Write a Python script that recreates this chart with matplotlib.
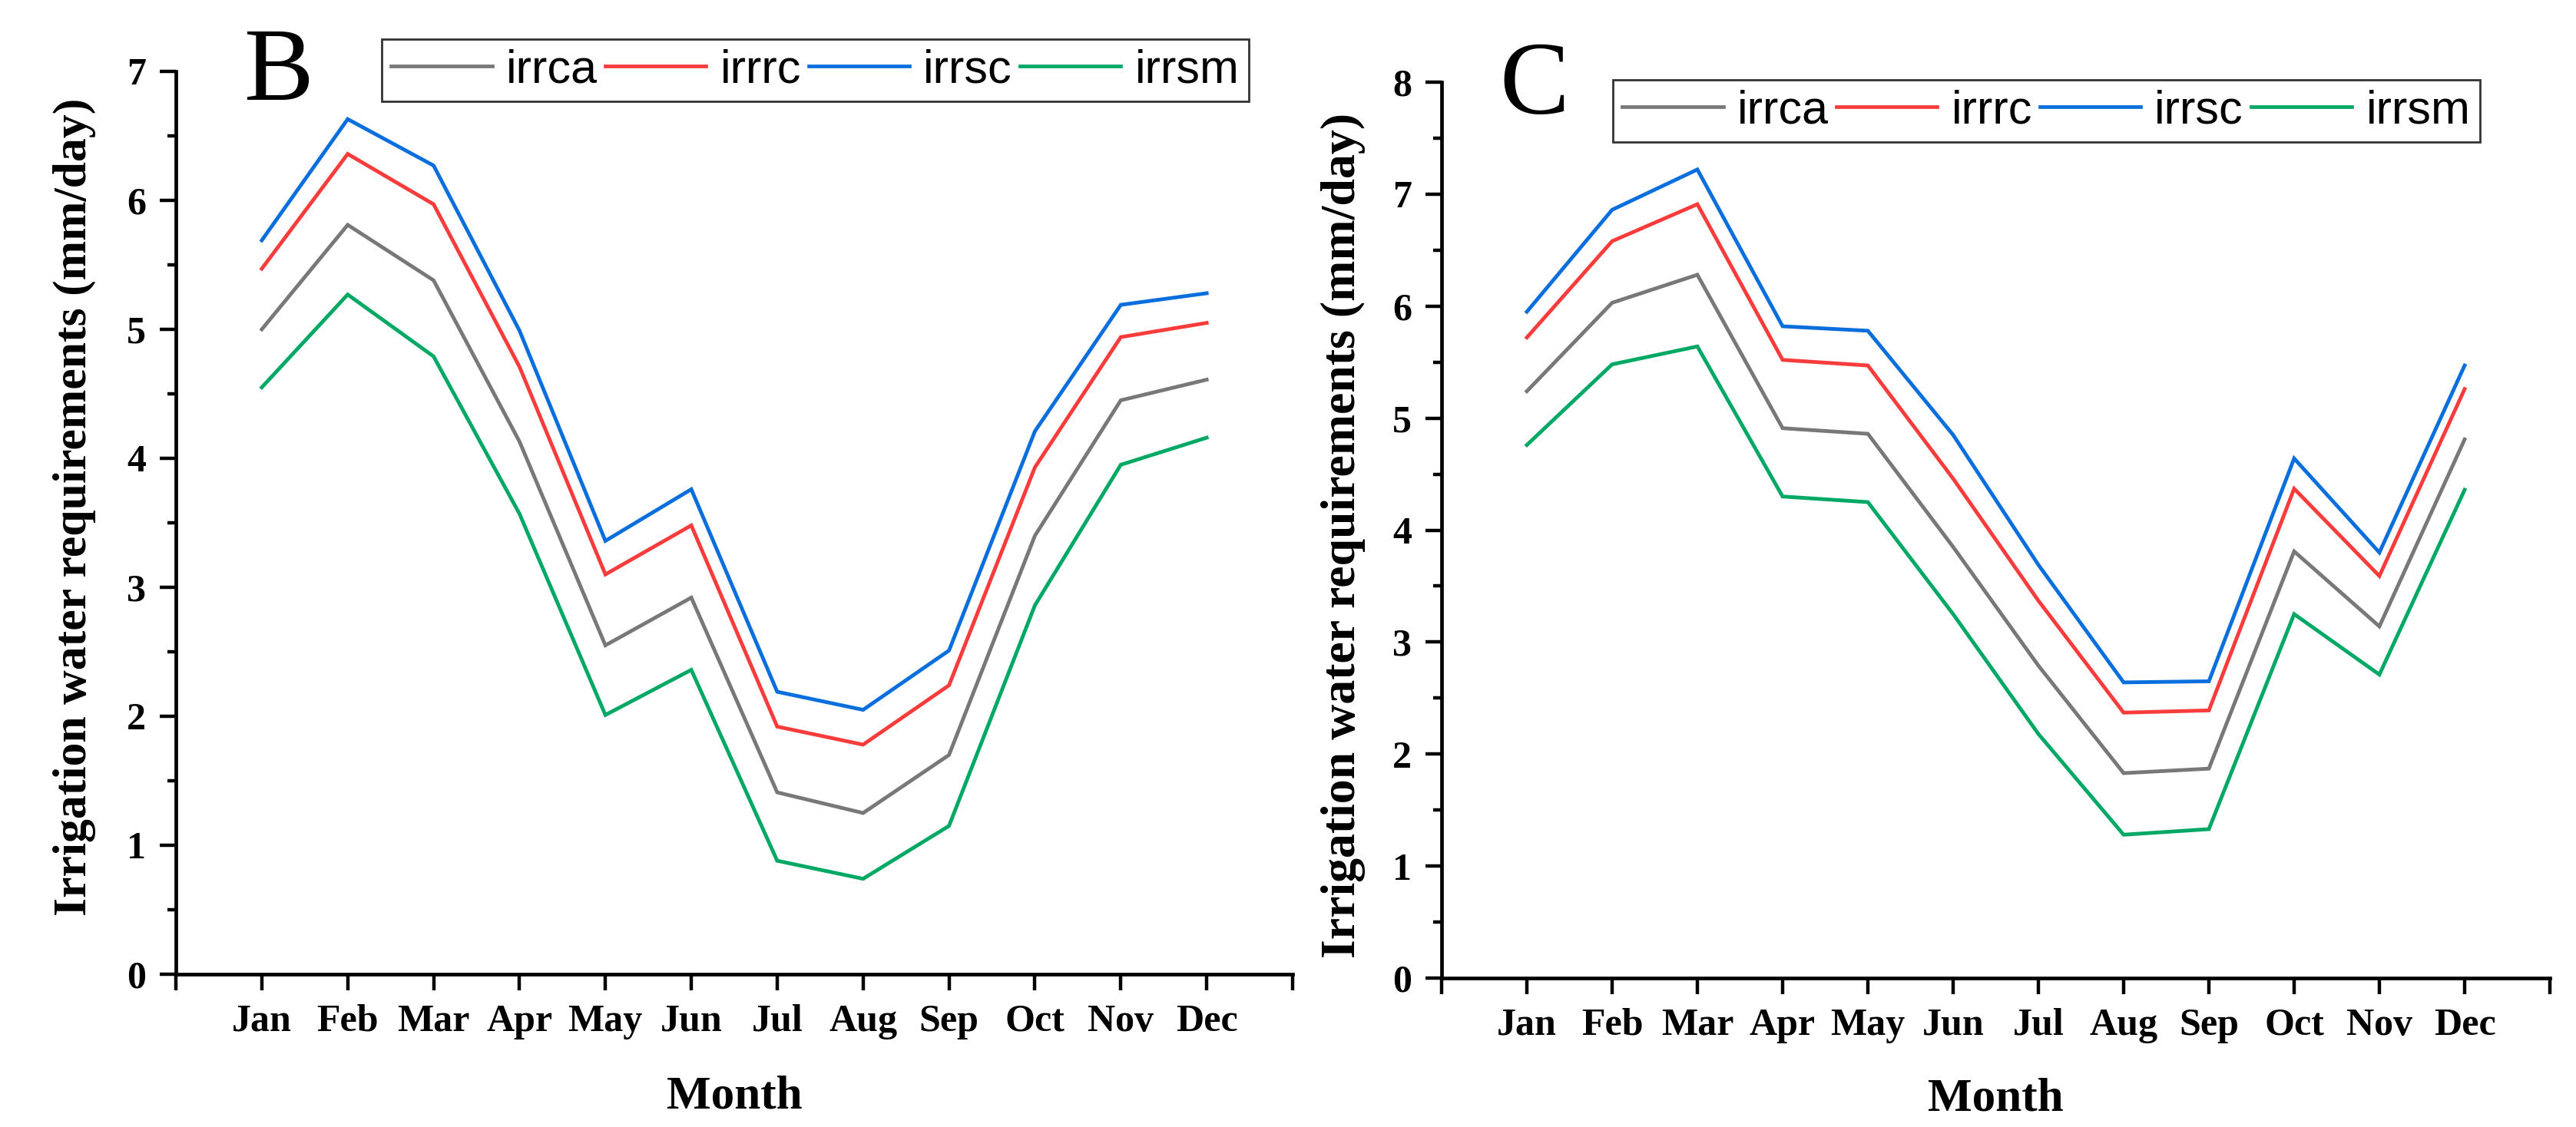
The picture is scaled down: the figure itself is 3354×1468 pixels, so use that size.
import matplotlib
matplotlib.use("Agg")
import matplotlib.pyplot as plt
from matplotlib.ticker import MultipleLocator, FixedLocator

months = ["Jan", "Feb", "Mar", "Apr", "May", "Jun", "Jul", "Aug", "Sep", "Oct", "Nov", "Dec"]
series_names = ["irrca", "irrrc", "irrsc", "irrsm"]

# Panel B
b_irrca = [5.00, 5.81, 5.38, 4.13, 2.55, 2.92, 1.41, 1.25, 1.70, 3.40, 4.45, 4.61]
b_irrrc = [5.47, 6.36, 5.97, 4.71, 3.10, 3.48, 1.92, 1.78, 2.24, 3.93, 4.94, 5.05]
b_irrsc = [5.69, 6.63, 6.27, 4.99, 3.36, 3.76, 2.19, 2.05, 2.51, 4.21, 5.19, 5.28]
b_irrsm = [4.55, 5.27, 4.79, 3.57, 2.01, 2.36, 0.88, 0.74, 1.15, 2.86, 3.95, 4.16]

# Panel C
c_irrca = [5.24, 6.03, 6.28, 4.91, 4.86, 3.85, 2.79, 1.83, 1.87, 3.81, 3.14, 4.81]
c_irrrc = [5.72, 6.58, 6.91, 5.52, 5.47, 4.46, 3.37, 2.37, 2.39, 4.37, 3.59, 5.26]
c_irrsc = [5.95, 6.86, 7.22, 5.82, 5.78, 4.85, 3.69, 2.64, 2.65, 4.64, 3.80, 5.47]
c_irrsm = [4.76, 5.48, 5.64, 4.30, 4.25, 3.25, 2.18, 1.28, 1.33, 3.25, 2.71, 4.36]

colors = ["#787878", "#F83C3C", "#0A6FDC", "#00A865"]

W, H = 3355, 1468
fig = plt.figure(figsize=(W / 100, H / 100), dpi=100)

serif = ["Liberation Serif", "DejaVu Serif"]
sans = ["Liberation Sans", "DejaVu Sans"]


def make_panel(rect, data, ymax, letter, letter_xy, leg_xy, ylab_xy, ylab_size):
    ax = fig.add_axes(rect)
    x = list(range(1, len(months) + 1))
    for vals, name, col in zip(data, series_names, colors):
        ax.plot(x, vals, color=col, lw=3.5, label=name, solid_joinstyle="miter")
    ax.set_xlim(0, len(months) + 1)
    ax.set_ylim(0, ymax)
    for s in ["top", "right"]:
        ax.spines[s].set_visible(False)
    for s in ["left", "bottom"]:
        ax.spines[s].set_linewidth(3.4)
    ax.xaxis.set_major_locator(FixedLocator(list(range(0, len(months) + 2))))
    ax.set_xticklabels([""] + months + [""])
    ax.yaxis.set_major_locator(MultipleLocator(1))
    ax.yaxis.set_minor_locator(MultipleLocator(0.5))
    ax.tick_params(axis="both", which="major", direction="out", length=15, width=3.2, pad=13)
    ax.tick_params(axis="y", which="minor", direction="out", length=8, width=3.2)
    for lab in ax.get_xticklabels() + ax.get_yticklabels():
        lab.set_fontfamily(serif)
        lab.set_fontweight("bold")
        lab.set_fontsize(36)
    ax.set_xlabel("Month", fontfamily=serif, fontweight="bold", fontsize=44)
    ax.xaxis.set_label_coords(0.5, -0.148)
    ax.xaxis.label.set_va("baseline")
    ax.set_ylabel("Irrigation water requirements (mm/day)", fontfamily=serif,
                  fontweight="bold", fontsize=ylab_size)
    ax.yaxis.set_label_coords(*ylab_xy)
    leg = ax.legend(loc="upper left", bbox_to_anchor=leg_xy, bbox_transform=fig.transFigure,
                    ncol=4, frameon=True, fancybox=False, handlelength=2.15,
                    handletextpad=0.3, columnspacing=0.16, borderpad=0.2,
                    borderaxespad=0, prop={"family": sans, "size": 44})
    leg.get_frame().set_edgecolor("black")
    leg.get_frame().set_linewidth(2.0)
    for lh in leg.get_lines():
        lh.set_linewidth(3.4)
    fig.text(letter_xy[0], letter_xy[1], letter, fontfamily=serif, fontsize=98,
             va="baseline", ha="left")
    return ax


make_panel([229 / W, 1 - 1269 / H, (1683 - 229) / W, (1269 - 93) / H],
           [b_irrca, b_irrrc, b_irrsc, b_irrsm], 7, "B",
           (317 / W, 1 - 130 / H), (497 / W, 1 - 51 / H), (-0.0715, 0.518), 44.5)
make_panel([1877 / W, 1 - 1274 / H, (3320 - 1877) / W, (1274 - 107) / H],
           [c_irrca, c_irrrc, c_irrsc, c_irrsm], 8, "C",
           (1952 / W, 1 - 148 / H), (2100 / W, 1 - 104 / H), (-0.0686, 0.494), 46)

fig.savefig("out.png", dpi=100)
